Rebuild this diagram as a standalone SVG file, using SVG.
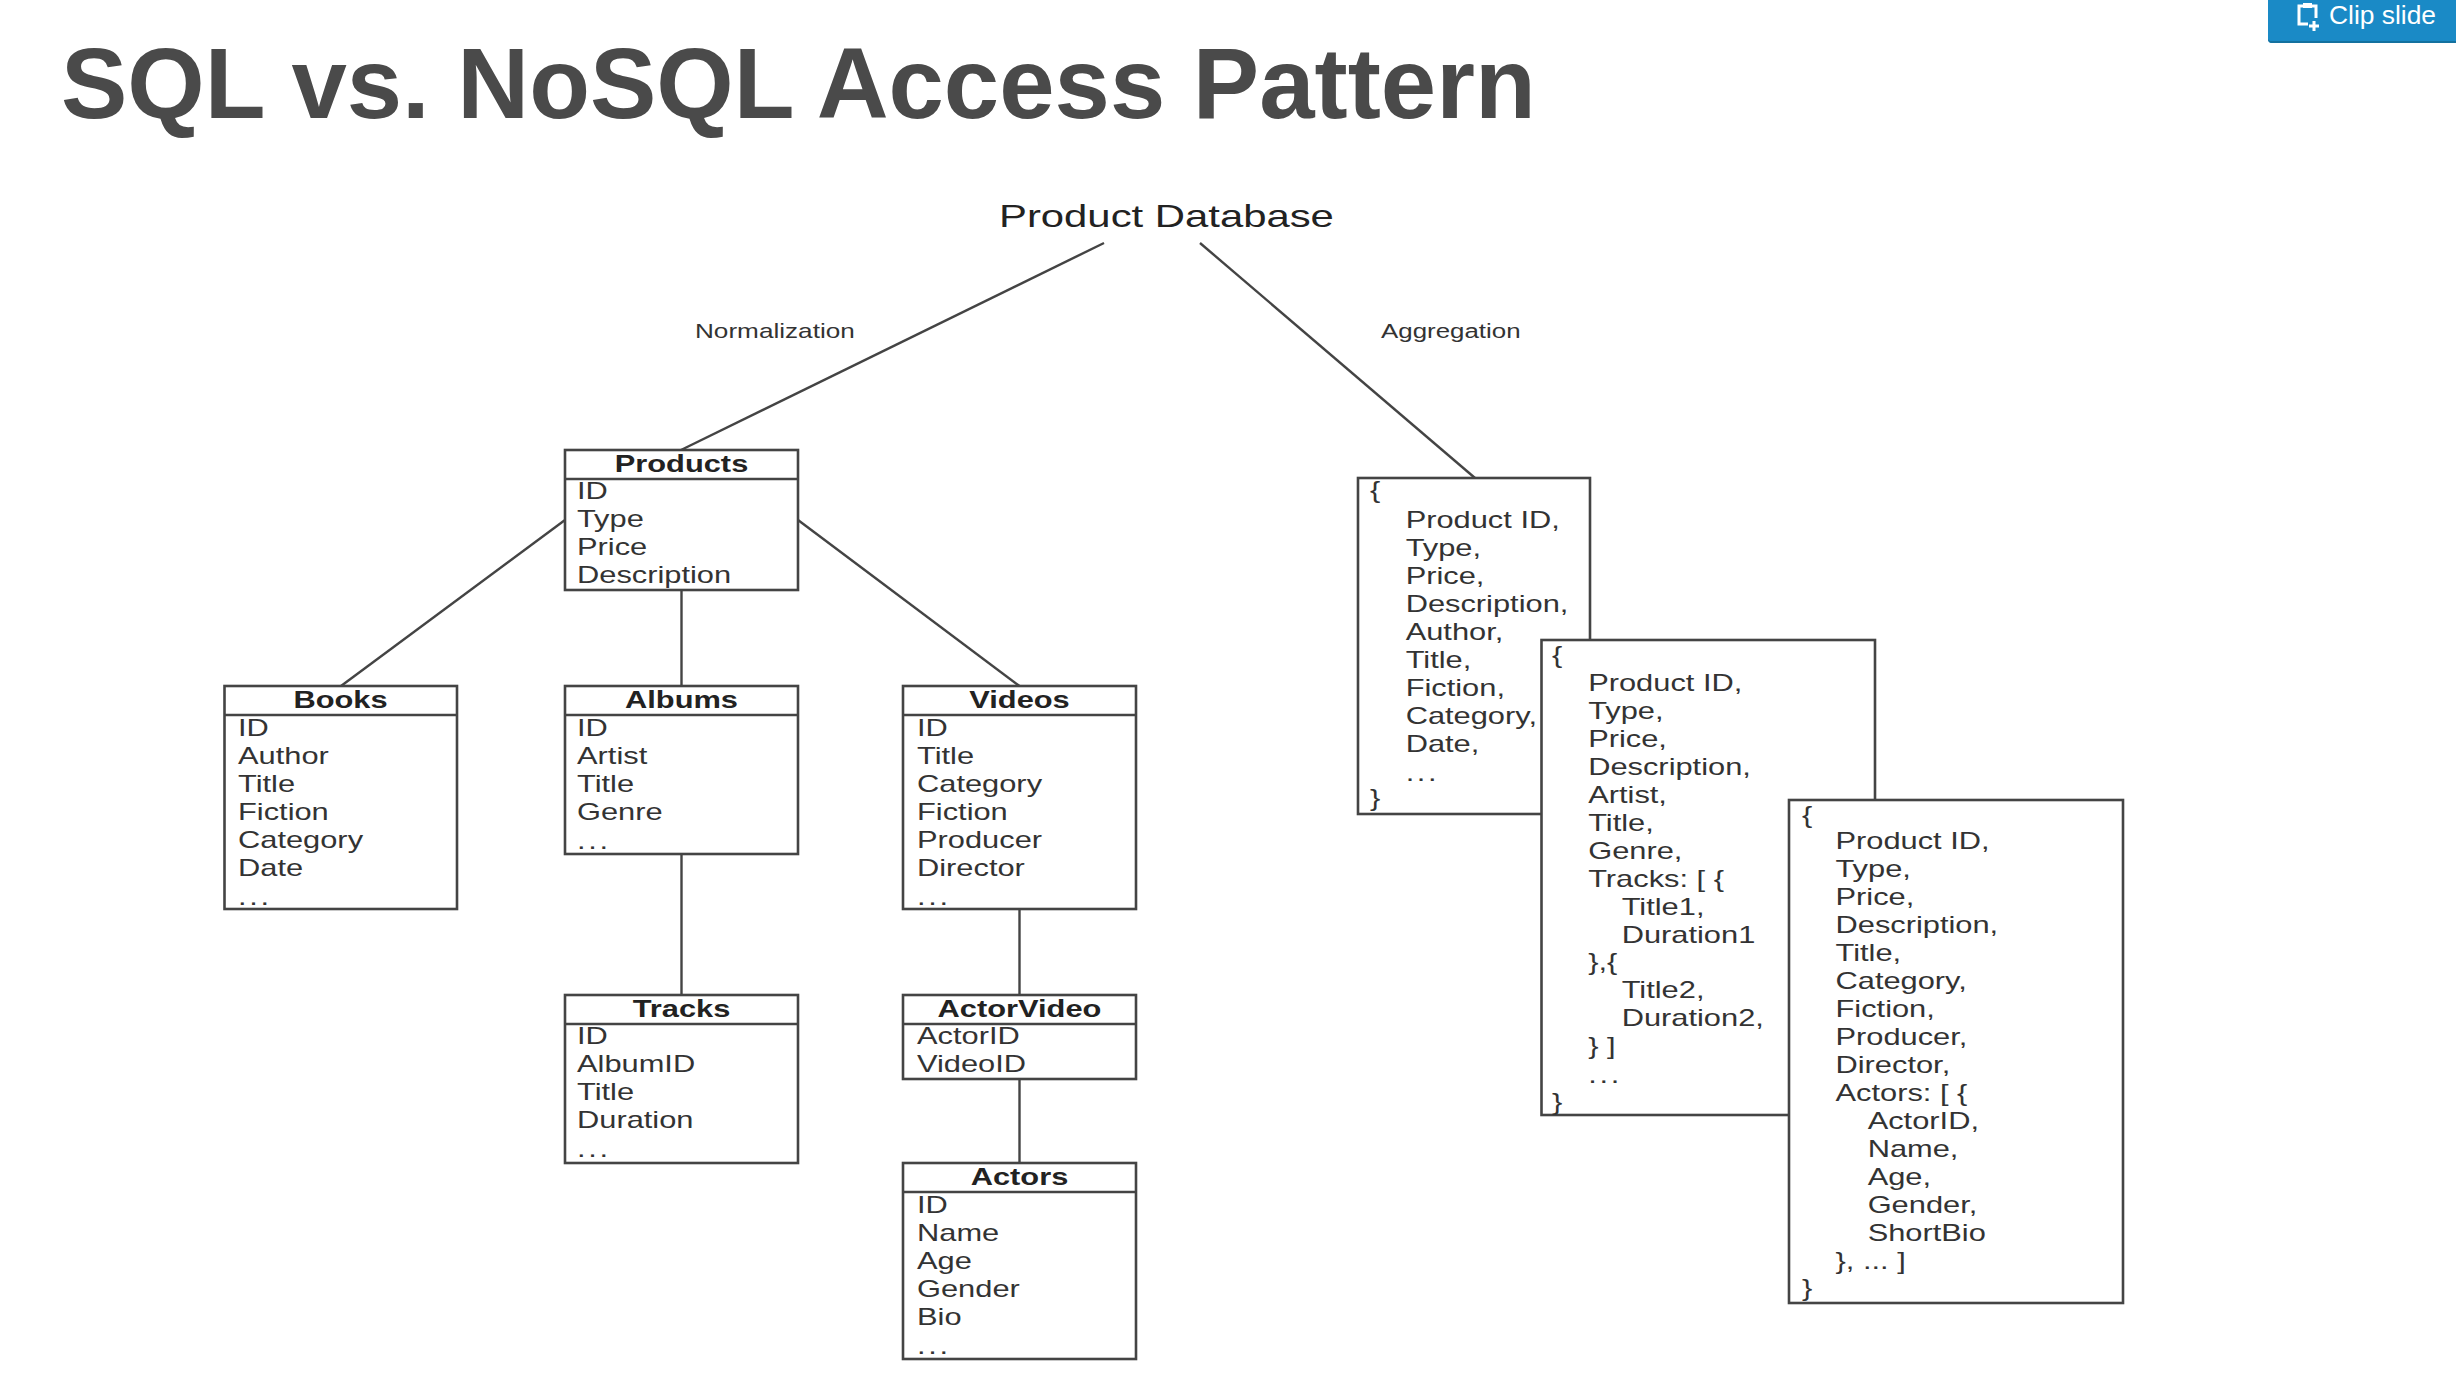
<svg xmlns="http://www.w3.org/2000/svg" width="2456" height="1394" viewBox="0 0 2456 1394">
<style>
text{font-family:"Liberation Sans",Arial,sans-serif}
.title{font-size:99.500px;font-weight:700;fill:#4a4a4a}
.t{font-size:23px;fill:#333}
.h{font-size:23px;font-weight:700;fill:#222;text-anchor:middle}
.box{fill:#fff;stroke:#444;stroke-width:2.6}
.div{stroke:#444;stroke-width:2.6}
.conn line{stroke:#444;stroke-width:2.4}
.lab{font-size:21px;fill:#333}
.root{font-size:31px;fill:#222}
.clip{font-size:26px;fill:#fff}
.dots{letter-spacing:2px}
</style>
<rect width="2456" height="1394" fill="#fff"/>
<text id="title" class="title" x="61" y="118">SQL vs. NoSQL Access Pattern</text>
<g id="clip-slide">
<path d="M2268 0H2456V43H2272a4 4 0 0 1-4-4Z" fill="#1a8ac6"/>
<path d="M2268 39a4 4 0 0 0 4 4H2456V41H2270Z" fill="#14719f"/>
<path d="M2308 24h-9V6h17v12" fill="none" stroke="#fff" stroke-width="3"/>
<rect x="2303" y="3" width="9" height="5" fill="#fff"/>
<path d="M2309 26h10M2314 21v10" stroke="#fff" stroke-width="3"/>
<text class="clip" x="2329" y="24" textLength="107" lengthAdjust="spacingAndGlyphs">Clip slide</text>
</g>
<g id="connectors" class="conn">
<line x1="1104" y1="243" x2="681" y2="450"/>
<line x1="1200" y1="243" x2="1475" y2="478"/>
<line x1="565" y1="520" x2="341" y2="686"/>
<line x1="681.500" y1="590" x2="681.500" y2="686"/>
<line x1="798" y1="520" x2="1019.500" y2="686"/>
<line x1="681.500" y1="854" x2="681.500" y2="995"/>
<line x1="1019.500" y1="908" x2="1019.500" y2="995"/>
<line x1="1019.500" y1="1079" x2="1019.500" y2="1163"/>
</g>
<g id="product-database"><text class="root" transform="translate(999 227) scale(1.35 1)">Product Database</text></g>
<g id="label-normalization"><text class="lab" transform="translate(695 338) scale(1.245 1)">Normalization</text></g>
<g id="label-aggregation"><text class="lab" transform="translate(1381 338) scale(1.233 1)">Aggregation</text></g>

<g id="products">
<rect class="box" x="565" y="450" width="233" height="140"/><line class="div" x1="565" y1="479" x2="798" y2="479"/>
<text class="h" transform="translate(681.500 472) scale(1.34 1)">Products</text>
<text class="t" transform="translate(577 499) scale(1.34 1)"><tspan x="0" y="0">ID</tspan><tspan x="0" y="28">Type</tspan><tspan x="0" y="56">Price</tspan><tspan x="0" y="84">Description</tspan></text>
</g>
<g id="books">
<rect class="box" x="224.500" y="686" width="232.500" height="223"/><line class="div" x1="224.500" y1="715" x2="457" y2="715"/>
<text class="h" transform="translate(340.500 708) scale(1.34 1)">Books</text>
<text class="t" transform="translate(238 736) scale(1.34 1)"><tspan x="0" y="0">ID</tspan><tspan x="0" y="28">Author</tspan><tspan x="0" y="56">Title</tspan><tspan x="0" y="84">Fiction</tspan><tspan x="0" y="112">Category</tspan><tspan x="0" y="140">Date</tspan><tspan class="dots" x="0" y="169">...</tspan></text>
</g>
<g id="albums">
<rect class="box" x="565" y="686" width="233" height="168"/><line class="div" x1="565" y1="715" x2="798" y2="715"/>
<text class="h" transform="translate(681.500 708) scale(1.34 1)">Albums</text>
<text class="t" transform="translate(577 736) scale(1.34 1)"><tspan x="0" y="0">ID</tspan><tspan x="0" y="28">Artist</tspan><tspan x="0" y="56">Title</tspan><tspan x="0" y="84">Genre</tspan><tspan class="dots" x="0" y="113">...</tspan></text>
</g>
<g id="videos">
<rect class="box" x="903" y="686" width="233" height="223"/><line class="div" x1="903" y1="715" x2="1136" y2="715"/>
<text class="h" transform="translate(1019.500 708) scale(1.34 1)">Videos</text>
<text class="t" transform="translate(917 736) scale(1.34 1)"><tspan x="0" y="0">ID</tspan><tspan x="0" y="28">Title</tspan><tspan x="0" y="56">Category</tspan><tspan x="0" y="84">Fiction</tspan><tspan x="0" y="112">Producer</tspan><tspan x="0" y="140">Director</tspan><tspan class="dots" x="0" y="169">...</tspan></text>
</g>
<g id="tracks">
<rect class="box" x="565" y="995" width="233" height="168"/><line class="div" x1="565" y1="1024" x2="798" y2="1024"/>
<text class="h" transform="translate(681.500 1017) scale(1.34 1)">Tracks</text>
<text class="t" transform="translate(577 1044) scale(1.34 1)"><tspan x="0" y="0">ID</tspan><tspan x="0" y="28">AlbumID</tspan><tspan x="0" y="56">Title</tspan><tspan x="0" y="84">Duration</tspan><tspan class="dots" x="0" y="113">...</tspan></text>
</g>
<g id="actorvideo">
<rect class="box" x="903" y="995" width="233" height="84"/><line class="div" x1="903" y1="1024" x2="1136" y2="1024"/>
<text class="h" transform="translate(1019.500 1017) scale(1.34 1)">ActorVideo</text>
<text class="t" transform="translate(917 1044) scale(1.34 1)"><tspan x="0" y="0">ActorID</tspan><tspan x="0" y="28">VideoID</tspan></text>
</g>
<g id="actors">
<rect class="box" x="903" y="1163" width="233" height="196"/><line class="div" x1="903" y1="1192" x2="1136" y2="1192"/>
<text class="h" transform="translate(1019.500 1185) scale(1.34 1)">Actors</text>
<text class="t" transform="translate(917 1213) scale(1.34 1)"><tspan x="0" y="0">ID</tspan><tspan x="0" y="28">Name</tspan><tspan x="0" y="56">Age</tspan><tspan x="0" y="84">Gender</tspan><tspan x="0" y="112">Bio</tspan><tspan class="dots" x="0" y="141">...</tspan></text>
</g>

<g id="doc-book">
<rect class="box" x="1358" y="478" width="232" height="336"/>
<text class="t" transform="translate(1370 498) scale(1.34 1)"><tspan x="0" y="0">{</tspan><tspan x="26.600" y="30">Product ID,</tspan><tspan x="26.600" y="58">Type,</tspan><tspan x="26.600" y="86">Price,</tspan><tspan x="26.600" y="114">Description,</tspan><tspan x="26.600" y="142">Author,</tspan><tspan x="26.600" y="170">Title,</tspan><tspan x="26.600" y="198">Fiction,</tspan><tspan x="26.600" y="226">Category,</tspan><tspan x="26.600" y="254">Date,</tspan><tspan class="dots" x="26.600" y="283">...</tspan><tspan x="0" y="308">}</tspan></text>
</g>
<g id="doc-album">
<rect class="box" x="1541.500" y="640" width="333.500" height="475"/>
<text class="t" transform="translate(1552 663) scale(1.34 1)"><tspan x="0" y="0">{</tspan><tspan x="27" y="28">Product ID,</tspan><tspan x="27" y="56">Type,</tspan><tspan x="27" y="84">Price,</tspan><tspan x="27" y="112">Description,</tspan><tspan x="27" y="140">Artist,</tspan><tspan x="27" y="168">Title,</tspan><tspan x="27" y="196">Genre,</tspan><tspan x="27" y="224">Tracks: [ {</tspan><tspan x="52" y="252">Title1,</tspan><tspan x="52" y="280">Duration1</tspan><tspan x="27" y="307">},{</tspan><tspan x="52" y="335">Title2,</tspan><tspan x="52" y="363">Duration2,</tspan><tspan x="27" y="391">} ]</tspan><tspan class="dots" x="27" y="420">...</tspan><tspan x="0" y="447">}</tspan></text>
</g>
<g id="doc-video">
<rect class="box" x="1789" y="800" width="334" height="503"/>
<text class="t" transform="translate(1802 823) scale(1.34 1)"><tspan x="0" y="0">{</tspan><tspan x="25" y="26">Product ID,</tspan><tspan x="25" y="54">Type,</tspan><tspan x="25" y="82">Price,</tspan><tspan x="25" y="110">Description,</tspan><tspan x="25" y="138">Title,</tspan><tspan x="25" y="166">Category,</tspan><tspan x="25" y="194">Fiction,</tspan><tspan x="25" y="222">Producer,</tspan><tspan x="25" y="250">Director,</tspan><tspan x="25" y="278">Actors: [ {</tspan><tspan x="49" y="306">ActorID,</tspan><tspan x="49" y="334">Name,</tspan><tspan x="49" y="362">Age,</tspan><tspan x="49" y="390">Gender,</tspan><tspan x="49" y="418">ShortBio</tspan><tspan x="25" y="446">}, ... ]</tspan><tspan x="0" y="473">}</tspan></text>
</g>
</svg>
